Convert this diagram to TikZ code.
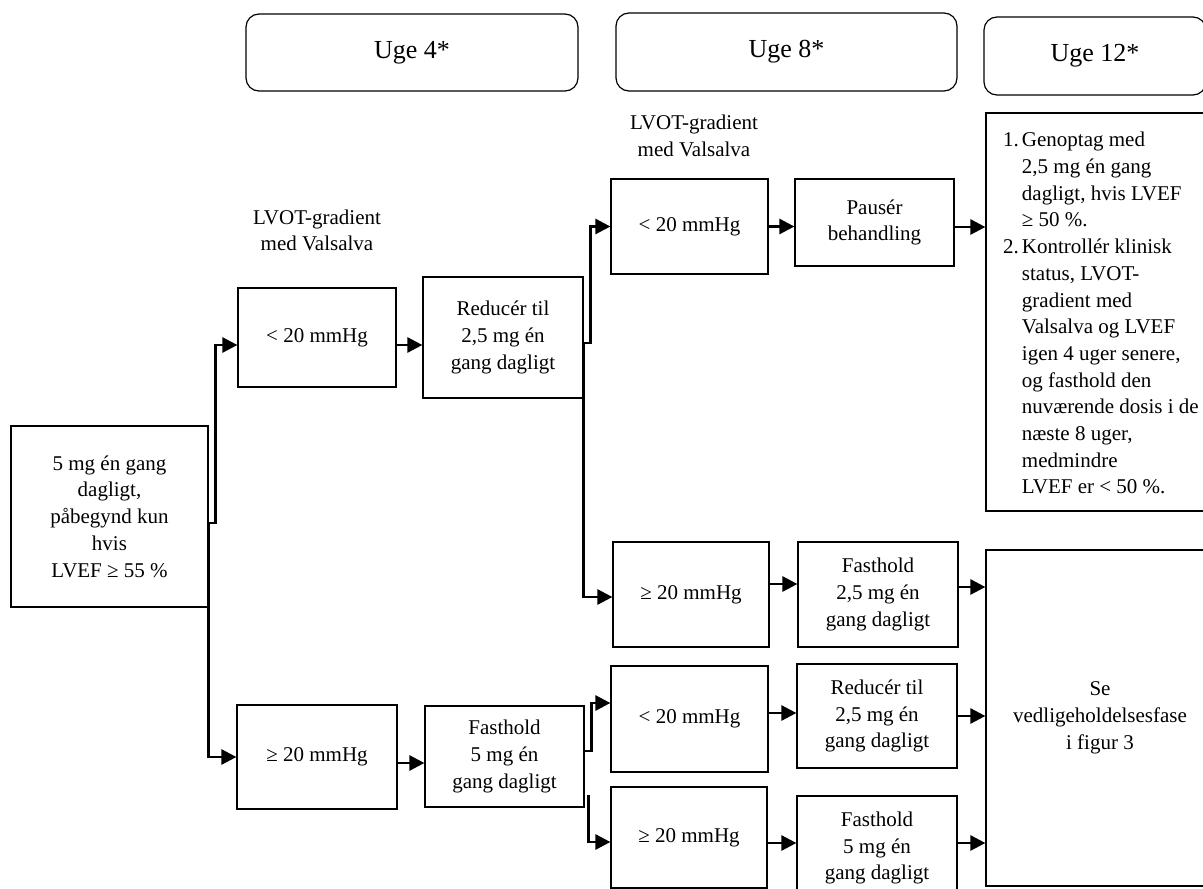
\documentclass[tikz,border=0pt]{standalone}
\usepackage{fontspec}
\setmainfont{Liberation Serif}
\usetikzlibrary{arrows.meta,calc}
\begin{document}
\begin{tikzpicture}[x=1pt,y=-1pt,
  box/.style={draw=black, line width=1.2pt, align=center, inner sep=0pt, font=\fontsize{21}{26.7}\selectfont},
  hdr/.style={draw=black, line width=1.2pt, rounded corners=13pt, font=\fontsize{26}{30}\selectfont, inner sep=0pt},
  lbl/.style={align=center, font=\fontsize{21}{26.5}\selectfont, inner sep=0pt},
  conn/.style={line width=2.6pt, -{Triangle[length=15pt,width=15pt]}, line join=miter},
]
\useasboundingbox (0,0) rectangle (1203,889);
\clip (0,0) rectangle (1203,889);

% headers
\node[hdr, minimum width=332pt, minimum height=77pt] (h4) at (412,52.5) {Uge 4*};
\node[hdr, minimum width=341pt, minimum height=78pt] (h8) at (786.5,52) {Uge 8*};
\node[hdr, minimum width=222pt, minimum height=78pt] (h12) at (1095,56) {Uge 12*};

% labels
\node[lbl] (lbl1) at (317,230.5) {LVOT-gradient\\med Valsalva};
\node[lbl] (lbl2) at (694,136) {LVOT-gradient\\med Valsalva};

% boxes
\node[box, minimum width=197pt, minimum height=181pt] (start) at (109.5,516.5) {5 mg én gang\\dagligt,\\påbegynd kun\\hvis\\LVEF ≥ 55 \%};
\node[box, minimum width=158pt, minimum height=99pt] (lt1) at (317,337.5) {< 20 mmHg};
\node[box, minimum width=160pt, minimum height=104pt] (ge1) at (317,757) {≥ 20 mmHg};
\node[box, minimum width=160pt, minimum height=121pt] (red1) at (503,337.5) {Reducér til\\2,5 mg én\\gang dagligt};
\node[box, minimum width=159pt, minimum height=101pt] (fh1) at (504.5,756.5) {Fasthold\\5 mg én\\gang dagligt};
\node[box, minimum width=157pt, minimum height=95pt] (lt2) at (689.5,226.5) {< 20 mmHg};
\node[box, minimum width=156pt, minimum height=105pt] (ge2) at (691,594.5) {≥ 20 mmHg};
\node[box, minimum width=157pt, minimum height=106pt] (lt3) at (689.5,719) {< 20 mmHg};
\node[box, minimum width=156pt, minimum height=101pt] (ge3) at (689,837.5) {≥ 20 mmHg};
\node[box, minimum width=159pt, minimum height=87pt] (paus) at (874.5,222.5) {Pausér\\behandling};
\node[box, minimum width=160pt, minimum height=105pt] (fh2) at (878,594.5) {Fasthold\\2,5 mg én\\gang dagligt};
\node[box, minimum width=160pt, minimum height=104pt] (red2) at (877,716) {Reducér til\\2,5 mg én\\gang dagligt};
\node[box, minimum width=160pt, minimum height=104pt] (fh3) at (877,848) {Fasthold\\5 mg én\\gang dagligt};
\node[box, minimum width=228pt, minimum height=398pt] (list) at (1100,312) {};
\node[box, minimum width=228pt, minimum height=336pt] (se) at (1100,718) {Se\\vedligeholdelsesfase\\i figur 3};

\node[anchor=north west, inner sep=0pt, font=\fontsize{21}{26.7}\selectfont] (listtxt) at (1003,128) {%
\begin{tabular}{@{}r@{\hspace{3pt}}l@{}}
1. & Genoptag med\\
   & 2,5 mg én gang\\
   & dagligt, hvis LVEF\\
   & ≥ 50 \%.\\
2. & Kontrollér klinisk\\
   & status, LVOT-\\
   & gradient med\\
   & Valsalva og LVEF\\
   & igen 4 uger senere,\\
   & og fasthold den\\
   & nuværende dosis i de\\
   & næste 8 uger,\\
   & medmindre\\
   & LVEF er < 50 \%.
\end{tabular}};

% connectors
\draw[conn] ([yshift=-6.5pt]start.east) -- ++(7,0) |- ([yshift=-7.5pt]lt1.west);
\draw[conn] ([yshift=-6.5pt]start.east) |- (ge1.west);
\draw[conn] ([yshift=-7.5pt]lt1.east) -- ([yshift=-7.5pt]lt1.east -| red1.west);
\draw[conn] ([yshift=-6pt]ge1.east) -- ([yshift=-6pt]ge1.east -| fh1.west);
\draw[conn] ([yshift=-5.5pt]red1.east) -- ++(7,0) |- (lt2.west);
\draw[conn] ([yshift=-5.5pt]red1.east) |- ([yshift=-2.5pt]ge2.west);
\draw[conn] ([yshift=5.5pt]fh1.east) -- ++(7,0) |- ([yshift=16pt]lt3.west);
\draw[conn] ([shift={(4pt,-38.5pt)}]fh1.east) |- ([yshift=-4.5pt]ge3.west);
\draw[conn] (lt2.east) -- (lt2.east -| paus.west);
\draw[conn] ([yshift=10.5pt]ge2.east) -- ([yshift=10.5pt]ge2.east -| fh2.west);
\draw[conn] ([yshift=6pt]lt3.east) -- ([yshift=6pt]lt3.east -| red2.west);
\draw[conn] ([yshift=-5.5pt]ge3.east) -- ([yshift=-5.5pt]ge3.east -| fh3.west);
\draw[conn] ([yshift=-4.5pt]paus.east) -- ([yshift=-4.5pt]paus.east -| list.west);
\draw[conn] ([yshift=7.5pt]fh2.east) -- ([yshift=7.5pt]fh2.east -| se.west);
\draw[conn] (red2.east) -- (red2.east -| se.west);
\draw[conn] ([yshift=5pt]fh3.east) -- ([yshift=5pt]fh3.east -| se.west);
\end{tikzpicture}
\end{document}
